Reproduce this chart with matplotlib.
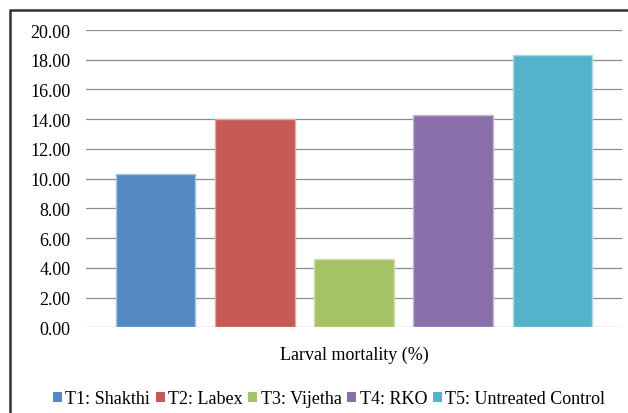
import matplotlib
matplotlib.use("Agg")
import matplotlib.pyplot as plt
from matplotlib.patches import Rectangle, Patch

# data
treatments = ["T1: Shakthi", "T2: Labex", "T3: Vijetha", "T4: RKO", "T5: Untreated Control"]
mortality = [10.30, 14.00, 4.60, 14.30, 18.33]
colors = ["#5589C4", "#C65A57", "#A5C266", "#8A6FAB", "#55B2CB"]
edge_colors = ["#A9C3E3", "#E2A9A8", "#CFE0B0", "#C4B5D6", "#A9D8E6"]
yticks = [0, 2, 4, 6, 8, 10, 12, 14, 16, 18, 20]
xlabel = "Larval mortality (%)"

plt.rcParams['font.family'] = ['Liberation Serif', 'DejaVu Serif']

fig = plt.figure(figsize=(6.28, 4.14), dpi=100)
ax = fig.add_axes([86 / 628, 1 - 328.3 / 414, 536 / 628, 297.3 / 414])

x = list(range(len(mortality)))
ax.bar(x, mortality, width=0.8, color=colors, edgecolor=edge_colors,
       linewidth=1.0, zorder=3)

ax.set_ylim(0, 20)
ax.set_xlim(-0.703, 4.703)
ax.set_yticks(yticks)
ax.set_yticklabels([f"{v:.2f}" for v in yticks], fontsize=13)
ax.tick_params(axis='y', length=0, pad=11)
ax.set_xticks([])
ax.grid(axis='y', color='#8C8C8C', linewidth=0.9, zorder=0)
for s in ax.spines.values():
    s.set_visible(False)

fig.text(354 / 628, 1 - 355 / 414, xlabel, ha='center', va='center', fontsize=13)

# legend along the bottom
handles = [Patch(facecolor=c, edgecolor='none') for c in colors]
fig.legend(handles, treatments, loc='center', bbox_to_anchor=(329 / 628, 1 - 400 / 414),
           ncol=5, frameon=False, fontsize=13, handlelength=0.5, handleheight=0.5,
           handletextpad=0.2, columnspacing=0.3, borderaxespad=0)

# outer chart frame (runs off the right and bottom edges)
fig.patches.append(Rectangle((9.5 / 628, -0.05), 1.1, 1 - 11 / 414 + 0.05,
                             transform=fig.transFigure, fill=False,
                             edgecolor='#333333', linewidth=1.8))

fig.savefig("out.png", dpi=100)
